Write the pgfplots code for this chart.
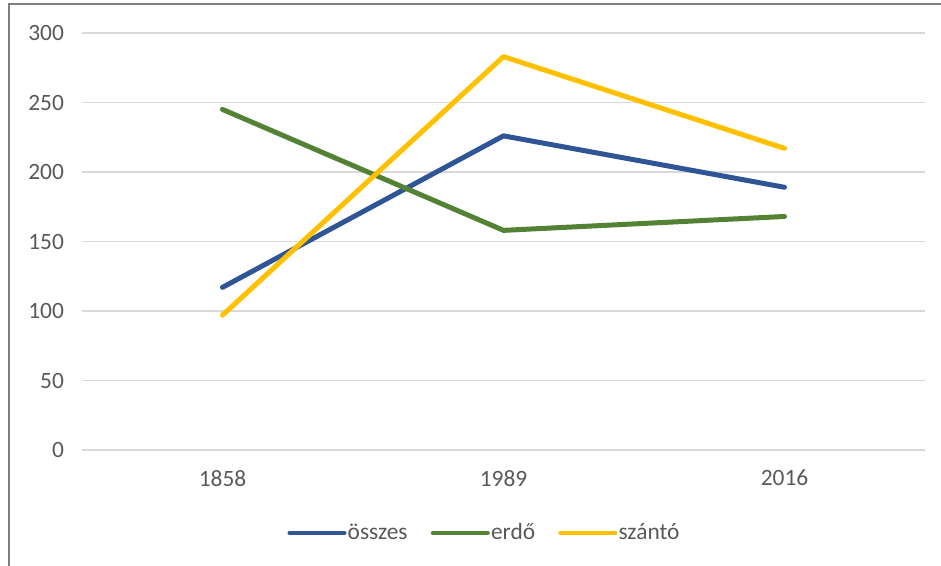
\documentclass[border=0pt]{standalone}
\usepackage{fontspec}
\setmainfont{Carlito}
\usepackage{pgfplots}
\pgfplotsset{compat=1.18}

\definecolor{oszes}{HTML}{2F5597}
\definecolor{erdo}{HTML}{548235}
\definecolor{szanto}{HTML}{FFC000}
\definecolor{gridc}{HTML}{D9D9D9}
\definecolor{txt}{HTML}{595959}
\definecolor{frame}{HTML}{7F7F7F}

\begin{document}
\begin{tikzpicture}
% 1 px of the reference = 0.5pt
\useasboundingbox (0,0) rectangle (470.5pt,283pt);
\begin{axis}[
    at={(41pt,58pt)}, anchor=south west,
    scale only axis,
    width=421.5pt, height=208.5pt,
    xmin=-0.5, xmax=2.5,
    ymin=0, ymax=300,
    xtick={0,1,2},
    xticklabels={1858,1989,2016},
    ytick={0,50,...,300},
    axis line style={draw=none},
    major tick length=0pt,
    ymajorgrids,
    grid style={gridc, line width=0.75pt},
    tick label style={font=\fontsize{11.7}{13}\selectfont, text=txt},
    /pgf/number format/assume math mode=true,
    yticklabel style={xshift=-5.5pt},
    xticklabel style={yshift=-6.5pt},
    clip=false,
    legend columns=3,
    legend style={draw=none, fill=none, at={(0.477,-0.199)}, anchor=center,
        font=\fontsize{11.7}{13}\selectfont, text=txt,
        nodes={inner sep=0.6pt},
        /tikz/every even column/.append style={column sep=11pt},
        inner sep=0pt},
    legend image code/.code={
        \draw[#1, line width=2pt, line cap=round] (0pt,0pt) -- (27.5pt,0pt);
    },
    every axis plot/.append style={line width=2.5pt, line cap=round, line join=round},
]
\addplot[oszes] coordinates {(0,117) (1,226) (2,189)};
\addlegendentry{összes}
\addplot[erdo] coordinates {(0,245) (1,158) (2,168)};
\addlegendentry{erdő}
\addplot[szanto] coordinates {(0,97) (1,283) (2,217)};
\addlegendentry{szántó}
\end{axis}
\draw[frame, line width=0.75pt] (4.5pt,0pt) -- (4.5pt,281pt) -- (470.5pt,281pt);
\end{tikzpicture}
\end{document}
